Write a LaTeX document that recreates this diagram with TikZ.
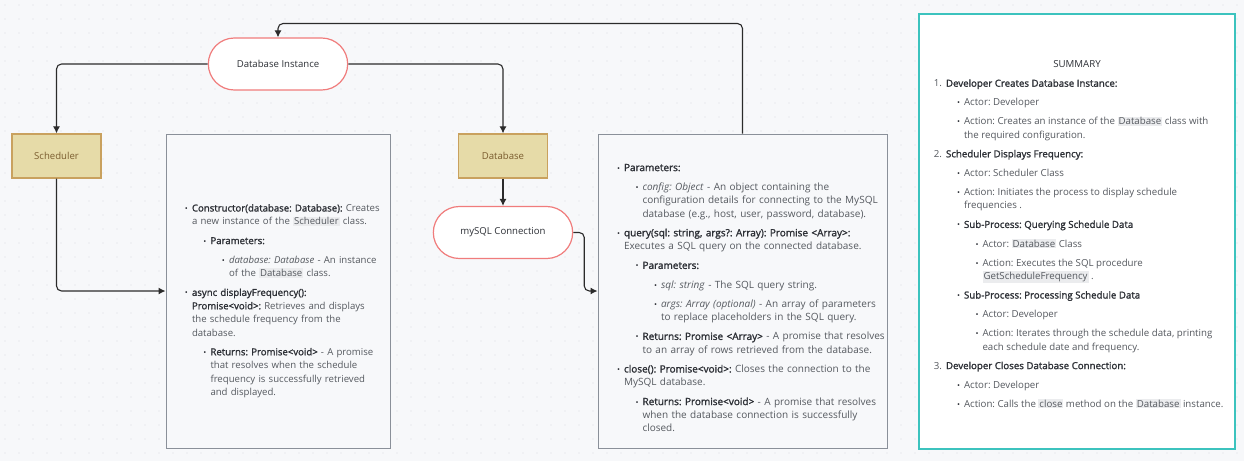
\documentclass[tikz,border=0pt]{standalone}
\usepackage{fontspec}
\setmainfont{Open Sans}
\newfontfamily\halbfett{Open Sans}[FakeBold=1.6]
\usepackage{tikz}
\usetikzlibrary{shapes.misc,arrows.meta}
\usepackage{xcolor}
\usepackage{enumitem}

\definecolor{hintergrund}{HTML}{F7F8FA}
\definecolor{punkt}{HTML}{D9DCE1}
\definecolor{rotrand}{HTML}{F07C7C}
\definecolor{sand}{HTML}{E6DBA8}
\definecolor{braunrand}{HTML}{C9A15E}
\definecolor{brauntext}{HTML}{7A5C2E}
\definecolor{graurand}{HTML}{8A9099}
\definecolor{boxgrau}{HTML}{F7F8FA}
\definecolor{tuerkis}{HTML}{3CC3BE}
\definecolor{textgrau}{HTML}{55595F}
\definecolor{dunkel}{HTML}{2D3036}
\definecolor{linie}{HTML}{2B2B2B}
\definecolor{markgrau}{HTML}{EBECEE}

\frenchspacing
\setlist[itemize]{label={\color{dunkel}\footnotesize\textbullet}, labelsep=4pt, itemsep=5.8pt, topsep=5.8pt, parsep=0pt, partopsep=0pt, leftmargin=18.5pt}
\setlist[itemize,1]{leftmargin=22pt}
\setlist[enumerate]{label=\arabic*., labelsep=4pt, itemsep=5.8pt, topsep=5.8pt, parsep=0pt, partopsep=0pt, leftmargin=23pt}

% Textblock: feste Breite, Zeilen nur an \\ umbrechen, um #2 nach unten versetzt
\newcommand\textblock[3]{\raisebox{-#2}[\height][\depth]{\makebox[#1][l]{\begin{minipage}{360pt}\raggedright #3\end{minipage}}}}

\begin{document}
\begin{tikzpicture}[x=1pt,y=-1pt,>={Latex[length=7pt,width=7pt]},
  stadion/.style={rounded rectangle, draw=rotrand, fill=white, line width=1.2pt, minimum width=146, minimum height=52, text=dunkel, font=\fontsize{9.6}{11}\selectfont},
  klasse/.style={rectangle, draw=braunrand, fill=sand, line width=1.2pt, minimum width=89, minimum height=44, text=brauntext, font=\fontsize{9.6}{11}\selectfont},
  infobox/.style={rectangle, draw=graurand, fill=boxgrau, line width=1pt, inner xsep=4, inner ysep=0, text=textgrau},
  pfeil/.style={->, line width=1.1pt, draw=linie, rounded corners=5pt}]

%Hintergrund
\fill[hintergrund] (0,0) rectangle (1244,461);
\foreach \x in {5,19,...,1243}{
  \foreach \y in {5,19,...,460}{
    \fill[punkt] (\x,\y) circle (0.7);
  }
}

\newcommand\hlwort[1]{{\setlength\fboxsep{1pt}\colorbox{markgrau}{#1}}}
\newcommand\fett[1]{{\halbfett\color{dunkel}#1}}

%Knoten
\node[stadion] (dbinst) at (278,64) {Database Instance};
\node[klasse] (sched) at (56.5,156) {Scheduler};
\node[klasse] (db) at (503,156) {Database};
\node[stadion] (mysql) at (503,232.5) {mySQL Connection};

\node[infobox, minimum width=224, minimum height=314,
  font=\fontsize{9.6}{13.4}\selectfont] (schedinfo) at (278,291) {\textblock{216pt}{10pt}{%
\setlength\spaceskip{3.2pt plus 1pt minus 0.5pt}%
\begin{itemize}
\item \fett{Constructor(database: Database):} Creates\\ a new instance of the \hlwort{Scheduler} class.
  \begin{itemize}
  \item \fett{Parameters:}
    \begin{itemize}
    \item \emph{database: Database} - An instance\\ of the \hlwort{Database} class.
    \end{itemize}
  \end{itemize}
\item \fett{async displayFrequency():}\\ \fett{Promise<void>:} Retrieves and displays\\ the schedule frequency from the\\ database.
  \begin{itemize}
  \item \fett{Returns: Promise<void>} - A promise\\ that resolves when the schedule\\ frequency is successfully retrieved\\ and displayed.
  \end{itemize}
\end{itemize}}};

\node[infobox, minimum width=289, minimum height=314,
  font=\fontsize{10}{13.4}\selectfont] (dbinfo) at (742.5,291) {\textblock{281pt}{7pt}{%
\setlength\spaceskip{3.4pt plus 1pt minus 0.5pt}%
\begin{itemize}
\item \fett{Parameters:}
  \begin{itemize}
  \item \emph{config: Object} - An object containing the\\ configuration details for connecting to the MySQL\\ database (e.g., host, user, password, database).
  \end{itemize}
\item \fett{query(sql: string, args?: Array): Promise <Array>:}\\ Executes a SQL query on the connected database.
  \begin{itemize}
  \item \fett{Parameters:}
    \begin{itemize}
    \item \emph{sql: string} - The SQL query string.
    \item \emph{args: Array (optional)} - An array of parameters\\ to replace placeholders in the SQL query.
    \end{itemize}
  \item \fett{Returns: Promise <Array>} - A promise that resolves\\ to an array of rows retrieved from the database.
  \end{itemize}
\item \fett{close(): Promise<void>:} Closes the connection to the\\ MySQL database.
  \begin{itemize}
  \item \fett{Returns: Promise<void>} - A promise that resolves\\ when the database connection is successfully\\ closed.
  \end{itemize}
\end{itemize}}};

\node[infobox, draw=tuerkis, fill=white, line width=1.3pt, minimum width=316, minimum height=435,
  font=\fontsize{9.7}{13.3}\selectfont] (summary) at (1077,231.5) {\textblock{308pt}{3pt}{%
\makebox[308pt]{\color{dunkel}SUMMARY}\par
\begin{enumerate}
\item \fett{Developer Creates Database Instance:}
  \begin{itemize}[leftmargin=18pt]
  \item Actor: Developer
  \item Action: Creates an instance of the \hlwort{Database} class with\\ the required configuration.
  \end{itemize}
\item \fett{Scheduler Displays Frequency:}
  \begin{itemize}[leftmargin=18pt]
  \item Actor: Scheduler Class
  \item Action: Initiates the process to display schedule\\ frequencies .
  \item \fett{Sub-Process: Querying Schedule Data}
    \begin{itemize}
    \item Actor: \hlwort{Database} Class
    \item Action: Executes the SQL procedure\\ \hlwort{GetScheduleFrequency} .
    \end{itemize}
  \item \fett{Sub-Process: Processing Schedule Data}
    \begin{itemize}
    \item Actor: Developer
    \item Action: Iterates through the schedule data, printing\\ each schedule date and frequency.
    \end{itemize}
  \end{itemize}
\item \fett{Developer Closes Database Connection:}
  \begin{itemize}[leftmargin=18pt]
  \item Actor: Developer
  \item Action: Calls the \hlwort{close} method on the \hlwort{Database} instance.
  \end{itemize}
\end{enumerate}}};

%Pfeile
\draw[pfeil] (dbinst.west) -| (sched.north);
\draw[pfeil] (dbinst.east) -| (db.north);
\draw[pfeil] (db.south) -- (mysql.north);
\draw[pfeil] (sched.south) |- (schedinfo.west);
\draw[pfeil] (mysql.east) -- ++(11,0) |- (dbinfo.west);
\draw[pfeil] (dbinfo.north) -- ++(0,-110) -| (dbinst.north);

\end{tikzpicture}
\end{document}
